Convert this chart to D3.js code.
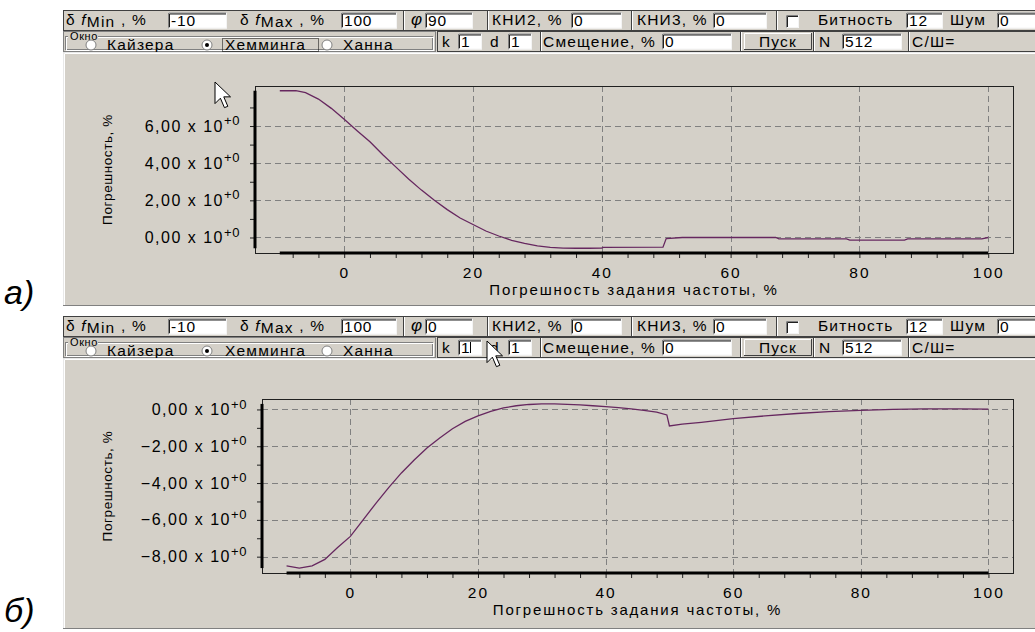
<!DOCTYPE html>
<html>
<head>
<meta charset="utf-8">
<script src="https://cdn.jsdelivr.net/npm/d3@7"></script>
<style>
  body { margin: 0; background: #fff; }
  svg { display: block; }
  text { font-family: "Liberation Sans", Arial, sans-serif; }
</style>
</head>
<body>
<svg id="c" width="1035" height="632"></svg>
<script>
// Frequency setting error sweep, percent (x) and resulting error, percent (y)
const errXA = [-10, -7.5, -6, -4, -2, 0, 2, 4, 6, 8, 10, 12, 14, 16, 18, 20, 22, 24, 26, 28, 30, 32, 34, 36, 38, 40, 40.2, 49.5, 50, 52.5, 67, 67.5, 78, 78.5, 87, 87.5, 99, 100];
const errYA = [7.9, 7.9, 7.8, 7.45, 6.95, 6.36, 5.75, 5.15, 4.45, 3.8, 3.15, 2.55, 2.0, 1.5, 1.05, 0.7, 0.35, 0.08, -0.15, -0.32, -0.45, -0.53, -0.57, -0.58, -0.58, -0.57, -0.53, -0.52, -0.06, 0, 0, -0.07, -0.07, -0.14, -0.14, -0.07, -0.07, 0];

const errXB = [-10, -8, -6, -4, -2, 0, 2, 4, 6, 8, 10, 12, 14, 16, 18, 20, 22, 24, 26, 28, 30, 32, 34, 36, 38, 40, 42, 44, 46, 48, 49.6, 50, 52, 55, 60, 65, 70, 75, 80, 85, 90, 95, 100];
const errYB = [-8.5, -8.62, -8.5, -8.15, -7.5, -6.9, -6.0, -5.1, -4.25, -3.45, -2.75, -2.1, -1.55, -1.05, -0.65, -0.35, -0.1, 0.08, 0.2, 0.27, 0.3, 0.3, 0.28, 0.25, 0.2, 0.15, 0.1, 0.03, -0.05, -0.15, -0.3, -0.9, -0.8, -0.7, -0.5, -0.35, -0.22, -0.12, -0.05, 0, 0.03, 0.03, 0.02];

const xTickValues = [0, 20, 40, 60, 80, 100];
const yTickValuesA = [0, 2, 4, 6];
const yTickValuesB = [0, -2, -4, -6, -8];

const xAxisTitle = "Погрешность задания частоты, %";
const yAxisTitle = "Погрешность, %";
const phaseValues = ["90", "0"];
const panelLetters = ["а)", "б)"];
const windowNames = ["Кайзера", "Хемминга", "Ханна"];

const BG = "#d4d0c8";
const CURVE = "#66275f";
const UI_FONT = 15.5;
const UI_LS = 1.2;

const svg = d3.select("#c");

function sunkenBox(g, x, y, w, h, txt) {
  g.append("rect").attr("x", x).attr("y", y).attr("width", w).attr("height", h).attr("fill", "#fff");
  g.append("path").attr("d", `M${x + 0.5},${y + h}V${y + 0.5}H${x + w}`).attr("stroke", "#808080").attr("fill", "none");
  g.append("path").attr("d", `M${x + 1.5},${y + h - 1}V${y + 1.5}H${x + w - 1}`).attr("stroke", "#202020").attr("fill", "none");
  g.append("path").attr("d", `M${x + 0.5},${y + h - 0.5}H${x + w - 0.5}V${y}`).attr("stroke", "#f4f4f4").attr("fill", "none");
  if (txt !== undefined) {
    g.append("text").attr("x", x + 3).attr("y", y + h - 3).attr("font-size", UI_FONT).attr("letter-spacing", 0.8).text(txt);
  }
}

function label(g, x, y, txt, opts = {}) {
  return g.append("text").attr("x", x).attr("y", y).attr("font-size", opts.size || UI_FONT)
    .attr("letter-spacing", opts.ls !== undefined ? opts.ls : UI_LS).attr("fill", "#000").text(txt);
}

function vsep(g, x, y1, y2) {
  g.append("line").attr("x1", x + 0.5).attr("x2", x + 0.5).attr("y1", y1).attr("y2", y2).attr("stroke", "#404040");
  g.append("line").attr("x1", x + 1.5).attr("x2", x + 1.5).attr("y1", y1).attr("y2", y2).attr("stroke", "#fff");
}

function deltaF(g, x, y, sub) {
  const t = g.append("text").attr("x", x).attr("y", y).attr("font-size", UI_FONT).attr("letter-spacing", UI_LS);
  t.append("tspan").text("δ  ");
  t.append("tspan").attr("font-style", "italic").text("f");
  t.append("tspan").attr("dy", 2).text(sub);
  t.append("tspan").attr("dy", -2).text(" , %");
}

function cursor(g, x, y) {
  const s = 1.35;
  const pts = [[0, 0], [0, 16], [4, 12], [7, 19], [9.5, 18], [6.5, 11], [11.5, 11]];
  g.append("path")
    .attr("d", "M" + pts.map(p => [x + p[0] * s, y + p[1] * s].join(",")).join("L") + "Z")
    .attr("fill", "#fff").attr("stroke", "#000").attr("stroke-width", 1);
}

function drawPanel(cfg) {
  const g = svg.append("g");
  const L = 63, R = 1035;
  const y0 = cfg.y0, r1 = cfg.r1h, r2 = cfg.r2h;
  const yRow2 = y0 + r1, yPlot = y0 + r1 + r2;

  // ---- first toolbar row
  g.append("rect").attr("x", L + 0.5).attr("y", y0 + 0.5).attr("width", R - L).attr("height", r1 - 1)
    .attr("fill", BG).attr("stroke", "#404040");
  const bh = r1 - 5, by = y0 + 2.5;
  const tb = y0 + r1 - 6;
  deltaF(g, 66, tb, "Min");
  sunkenBox(g, 168, by, 59, bh, "-10");
  deltaF(g, 240, tb, "Max");
  sunkenBox(g, 341, by, 56, bh, "100");
  vsep(g, 403, y0 + 1, y0 + r1 - 1);
  label(g, 411, tb, "φ").attr("font-style", "italic").attr("font-family", "Liberation Serif, serif").attr("font-size", 17);
  sunkenBox(g, 425, by, 48, bh, cfg.phi);
  vsep(g, 487, y0 + 1, y0 + r1 - 1);
  label(g, 492, tb, "КНИ2, %");
  sunkenBox(g, 571, by, 51, bh, "0");
  vsep(g, 631, y0 + 1, y0 + r1 - 1);
  label(g, 637, tb, "КНИ3, %");
  sunkenBox(g, 713, by, 54, bh, "0");
  vsep(g, 776, y0 + 1, y0 + r1 - 1);
  sunkenBox(g, 786, y0 + 5, 13, 13);
  label(g, 818, tb, "Битность");
  sunkenBox(g, 906, by, 37, bh, "12");
  label(g, 950, tb, "Шум");
  sunkenBox(g, 997, by, 45, bh, "0");

  // ---- second toolbar row
  g.append("rect").attr("x", L).attr("y", yRow2).attr("width", R - L).attr("height", r2).attr("fill", BG);
  // window group box
  g.append("rect").attr("x", L + 0.5).attr("y", yRow2 + 0.5).attr("width", 372).attr("height", r2 - 1)
    .attr("fill", BG).attr("stroke", "#808080");
  g.append("rect").attr("x", L + 2.5).attr("y", yRow2 + 5.5).attr("width", 367).attr("height", r2 - 8)
    .attr("fill", "none").attr("stroke", "#808080");
  g.append("rect").attr("x", L + 3.5).attr("y", yRow2 + 6.5).attr("width", 367).attr("height", r2 - 8)
    .attr("fill", "none").attr("stroke", "#fff");
  g.append("rect").attr("x", 68).attr("y", yRow2 + 1).attr("width", 30).attr("height", 7).attr("fill", BG);
  label(g, 70, yRow2 + 8.5, "Окно", { size: 11, ls: 0.6 });
  const rx = [91, 207, 327];
  const lx = [107, 225, 343];
  const ry = yRow2 + 14;
  windowNames.forEach((n, i) => {
    g.append("circle").attr("cx", rx[i]).attr("cy", ry).attr("r", 5).attr("fill", "#fff").attr("stroke", "#808080");
    if (i === 1) g.append("circle").attr("cx", rx[i]).attr("cy", ry).attr("r", 2).attr("fill", "#000");
    label(g, lx[i], ry + 5, n);
  });
  if (cfg.focus) {
    g.append("rect").attr("x", 222.5).attr("y", ry - 6.5).attr("width", 96).attr("height", 13)
      .attr("fill", "none").attr("stroke", "#000").attr("stroke-dasharray", "1,1");
  }
  // numeric controls
  g.append("rect").attr("x", 437.5).attr("y", yRow2 + 0.5).attr("width", R - 437).attr("height", r2 - 1)
    .attr("fill", BG).attr("stroke", "#404040");
  const rb = yRow2 + r2 - 5;
  label(g, 442, rb, "k");
  sunkenBox(g, 458, yRow2 + 2.5, 24, r2 - 5, "1");
  if (cfg.caret) g.append("line").attr("x1", 470.5).attr("x2", 470.5).attr("y1", yRow2 + 5).attr("y2", yRow2 + r2 - 5).attr("stroke", "#000");
  label(g, 490, rb, "d");
  sunkenBox(g, 508, yRow2 + 2.5, 24, r2 - 5, "1");
  vsep(g, 540, yRow2 + 1, yRow2 + r2 - 1);
  label(g, 543, rb, "Смещение, %");
  sunkenBox(g, 662, yRow2 + 2.5, 70, r2 - 5, "0");
  vsep(g, 740, yRow2 + 1, yRow2 + r2 - 1);
  g.append("rect").attr("x", 744).attr("y", yRow2 + 2).attr("width", 68).attr("height", r2 - 4).attr("fill", BG);
  g.append("path").attr("d", `M744.5,${yRow2 + r2 - 2}V${yRow2 + 2.5}H812`).attr("stroke", "#fff").attr("fill", "none");
  g.append("path").attr("d", `M744,${yRow2 + r2 - 2.5}H811.5V${yRow2 + 2}`).attr("stroke", "#404040").attr("fill", "none");
  label(g, 759, rb, "Пуск");
  vsep(g, 813, yRow2 + 1, yRow2 + r2 - 1);
  label(g, 819, rb, "N");
  sunkenBox(g, 842, yRow2 + 2.5, 60, r2 - 5, "512");
  vsep(g, 908, yRow2 + 1, yRow2 + r2 - 1);
  label(g, 912, rb, "С/Ш=");

  // ---- chart area
  g.append("rect").attr("x", L).attr("y", yPlot).attr("width", R - L).attr("height", cfg.bottom - yPlot).attr("fill", BG);
  g.append("path").attr("d", `M${L + 1.5},${cfg.bottom}V${yPlot + 1.5}H${R}`).attr("stroke", "#fff").attr("fill", "none");
  g.append("path").attr("d", `M${L + 0.5},${cfg.bottom}V${yPlot + 0.5}H${R}`).attr("stroke", "#e8e8e8").attr("fill", "none");
  g.append("line").attr("x1", L).attr("x2", R).attr("y1", cfg.bottom - 0.5).attr("y2", cfg.bottom - 0.5).attr("stroke", "#808080");

  const f = cfg.frame;
  const xs = cfg.xs, ys = cfg.ys;
  const xExt = d3.extent(xs), yExt = d3.extent(ys);
  const xPad = (xExt[1] - xExt[0]) * 0.035, yPad = (yExt[1] - yExt[0]) * 0.03;
  const x = d3.scaleLinear().domain([xExt[0] - xPad, xExt[1] + xPad]).range([f.l, f.r]);
  const y = d3.scaleLinear().domain([yExt[0] - yPad, yExt[1] + yPad]).range([f.b, f.t]);

  // dashed grid
  const grid = g.append("g").attr("stroke", "#808080").attr("stroke-dasharray", "6,4");
  cfg.yTicks.forEach(v => {
    grid.append("line").attr("x1", f.l).attr("x2", f.r).attr("y1", Math.round(y(v)) + 0.5).attr("y2", Math.round(y(v)) + 0.5);
  });
  xTickValues.forEach(v => {
    grid.append("line").attr("x1", Math.round(x(v)) + 0.5).attr("x2", Math.round(x(v)) + 0.5).attr("y1", f.t).attr("y2", f.b);
  });

  // frame
  g.append("rect").attr("x", f.l + 0.5).attr("y", f.t + 0.5).attr("width", f.r - f.l).attr("height", f.b - f.t)
    .attr("fill", "none").attr("stroke", "#202020");

  // tick marks
  const minorX = d3.range(-8, 101, 4);
  const ax = g.append("g").attr("transform", `translate(0,${f.b})`)
    .call(d3.axisBottom(x).tickValues(minorX).tickSize(5).tickFormat(""));
  ax.select(".domain").remove();
  ax.selectAll("line").attr("stroke", "#202020");

  const minorY = d3.range(Math.ceil(yExt[0]), Math.floor(yExt[1]) + 1, 1);
  const ay = g.append("g").attr("transform", `translate(${f.l},0)`)
    .call(d3.axisLeft(y).tickValues(minorY).tickSize(5).tickFormat(""));
  ay.select(".domain").remove();
  ay.selectAll("line").attr("stroke", "#202020");

  // tick labels
  const lxA = g.append("g").attr("transform", `translate(0,${f.b})`)
    .call(d3.axisBottom(x).tickValues(xTickValues).tickSize(0).tickPadding(14).tickFormat(d3.format("d")));
  lxA.select(".domain").remove();
  lxA.selectAll("text").attr("font-size", 15.5).attr("letter-spacing", 2)
    .attr("font-family", "Liberation Sans, Arial, sans-serif").attr("fill", "#000");

  const fmt = v => d3.format(".2f")(v).replace(".", ",") + " x 10";
  const lyA = g.append("g").attr("transform", `translate(${f.l - 15},0)`)
    .call(d3.axisLeft(y).tickValues(cfg.yTicks).tickSize(0).tickPadding(0).tickFormat(fmt));
  lyA.select(".domain").remove();
  lyA.selectAll("text").attr("font-size", 16).attr("letter-spacing", 1.5)
    .attr("font-family", "Liberation Sans, Arial, sans-serif").attr("fill", "#000")
    .append("tspan").attr("dy", "-0.5em").attr("font-size", 13).attr("letter-spacing", 0.6).text("+0");

  // curve
  const pts = xs.map((v, i) => [v, ys[i]]);
  g.append("path").datum(pts)
    .attr("d", d3.line().x(d => x(d[0])).y(d => y(d[1])))
    .attr("fill", "none").attr("stroke", CURVE).attr("stroke-width", 1.3);

  // heavy axis lines spanning the data range
  g.append("line").attr("x1", x(xExt[0])).attr("x2", x(xExt[1])).attr("y1", f.b).attr("y2", f.b)
    .attr("stroke", "#000").attr("stroke-width", 3);
  g.append("line").attr("x1", f.l).attr("x2", f.l).attr("y1", y(yExt[0])).attr("y2", y(yExt[1]))
    .attr("stroke", "#000").attr("stroke-width", 3);

  // axis titles
  g.append("text").attr("x", x((xExt[0] + xExt[1]) / 2)).attr("y", f.b + 42).attr("text-anchor", "middle")
    .attr("font-size", 15).attr("letter-spacing", 1.8).text(xAxisTitle);
  g.append("text").attr("transform", `translate(${112},${(f.t + f.b) / 2}) rotate(-90)`)
    .attr("text-anchor", "middle").attr("font-size", 13.5).attr("letter-spacing", 0.6).text(yAxisTitle);

  // panel letter
  svg.append("text").attr("x", 4).attr("y", cfg.letterY).attr("font-family", "Liberation Serif, serif")
    .attr("font-style", "italic").attr("font-size", 34).text(cfg.letter);

  cursor(svg, cfg.cursor[0], cfg.cursor[1]);
}

drawPanel({
  y0: 10, r1h: 21, r2h: 21, bottom: 306,
  frame: { l: 255, t: 86, r: 1013, b: 253 },
  xs: errXA, ys: errYA, yTicks: yTickValuesA,
  phi: phaseValues[0], focus: true, caret: false,
  letter: panelLetters[0], letterY: 304, cursor: [215, 82]
});

drawPanel({
  y0: 316, r1h: 21, r2h: 21, bottom: 629,
  frame: { l: 262, t: 399, r: 1013, b: 573 },
  xs: errXB, ys: errYB, yTicks: yTickValuesB,
  phi: phaseValues[1], focus: false, caret: true,
  letter: panelLetters[1], letterY: 622, cursor: [487, 341]
});
</script>
</body>
</html>
